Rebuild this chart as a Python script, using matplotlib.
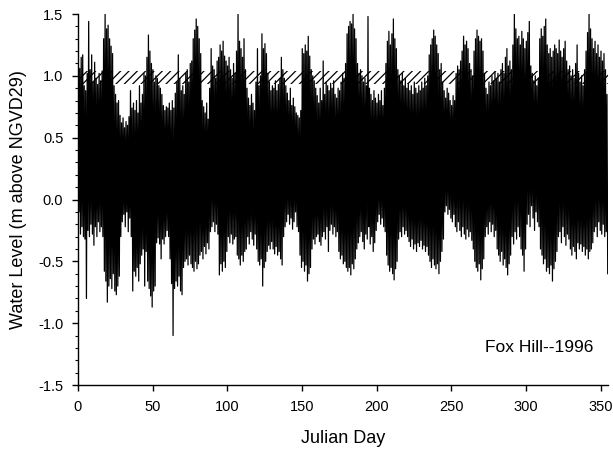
import numpy as np
import matplotlib
matplotlib.use("Agg")
import matplotlib.pyplot as plt

plt.rcParams['font.family'] = ['Liberation Sans', 'DejaVu Sans']
plt.rcParams['hatch.linewidth'] = 0.9

##-----------DATA (one high / one low per day)-----------##
high_water = [
	0.87, 1.06, 1.15, 1.17, 0.92, 0.88, 1.02, 1.44, 1.05, 1.17,
	0.95, 1.11, 0.98, 0.93, 1.02, 0.96, 1.04, 1.30, 1.50, 1.38,
	1.41, 1.30, 1.24, 1.18, 0.92, 0.85, 0.78, 0.80, 0.68, 0.62,
	0.66, 0.58, 0.63, 0.60, 0.67, 0.88, 0.74, 0.78, 0.72, 0.80,
	0.70, 0.92, 0.78, 0.85, 1.02, 1.00, 1.15, 1.33, 1.20, 1.10,
	1.05, 0.95, 1.00, 0.98, 0.92, 0.90, 0.85, 0.76, 0.72, 0.75,
	0.74, 0.78, 0.72, 0.80, 0.74, 0.86, 0.95, 1.17, 0.98, 0.88,
	0.92, 0.85, 1.02, 1.05, 0.95, 1.10, 1.12, 1.30, 1.37, 1.46,
	1.40, 1.30, 1.18, 0.80, 0.75, 0.70, 0.78, 0.65, 0.90, 1.22,
	1.08, 1.05, 0.98, 1.12, 1.15, 1.25, 1.20, 1.28, 1.16, 1.12,
	1.08, 1.15, 1.05, 0.98, 1.10, 1.02, 1.20, 1.50, 1.28, 1.22,
	1.15, 1.30, 1.05, 0.90, 0.82, 0.76, 0.85, 0.78, 0.72, 0.95,
	1.22, 0.92, 1.00, 1.34, 1.22, 1.26, 1.18, 1.02, 0.95, 0.88,
	0.92, 0.90, 0.96, 0.88, 0.93, 0.98, 1.15, 1.05, 0.98, 0.92,
	0.86, 0.80, 0.90, 0.76, 0.82, 0.75, 0.70, 0.68, 0.66, 0.72,
	1.22, 1.18, 1.25, 1.20, 1.32, 1.16, 1.05, 1.00, 0.96, 0.90,
	0.84, 0.78, 0.90, 0.80, 1.12, 0.85, 0.95, 0.92, 0.88, 0.94,
	0.90, 0.96, 0.85, 0.82, 0.90, 0.88, 0.95, 1.02, 0.98, 1.10,
	1.34, 1.40, 1.44, 1.42, 1.50, 1.38, 1.30, 1.10, 1.02, 1.05,
	1.00, 0.95, 0.98, 0.92, 1.48, 0.90, 0.85, 0.80, 0.88, 0.82,
	0.78, 0.85, 0.80, 0.88, 0.76, 0.90, 1.10, 1.28, 1.36, 1.25,
	1.34, 1.46, 1.30, 1.22, 1.05, 1.00, 0.96, 1.02, 0.92, 0.98,
	0.90, 0.94, 0.88, 0.92, 0.85, 0.95, 0.90, 0.86, 0.92, 0.88,
	0.95, 0.90, 0.98, 0.92, 1.00, 1.17, 1.25, 1.30, 1.37, 1.32,
	1.25, 1.18, 1.05, 1.10, 0.95, 0.88, 0.82, 0.90, 0.86, 0.80,
	0.76, 0.84, 0.80, 1.02, 1.08, 1.05, 1.12, 1.20, 1.32, 1.25,
	1.28, 1.22, 1.10, 1.05, 1.00, 1.20, 1.30, 1.37, 1.32, 1.28,
	1.30, 1.20, 1.02, 0.90, 0.85, 0.95, 0.92, 1.00, 0.96, 1.03,
	0.98, 1.02, 0.95, 1.05, 1.10, 1.02, 1.15, 1.22, 1.08, 1.12,
	1.05, 1.25, 1.50, 1.38, 1.30, 1.32, 1.25, 1.36, 1.30, 1.22,
	1.28, 1.35, 1.44, 1.08, 1.02, 0.96, 1.00, 0.92, 0.98, 1.30,
	1.38, 1.32, 1.40, 1.46, 1.25, 1.18, 1.22, 1.15, 1.20, 1.25,
	1.22, 1.18, 1.29, 1.20, 1.15, 1.22, 1.28, 1.12, 1.05, 1.08,
	1.00, 1.05, 0.98, 1.10, 1.25, 1.02, 0.95, 1.00, 0.92, 1.05,
	1.20, 1.35, 1.50, 1.38, 1.30, 1.22, 1.28, 1.18, 1.25, 1.15,
	1.20, 1.12, 1.18, 1.05, 0.85]

low_water = [
	-0.10, -0.28, -0.22, -0.30, -0.32, -0.80, -0.25, -0.30, -0.20, -0.28,
	-0.37, -0.22, -0.30, -0.18, -0.26, -0.22, -0.30, -0.58, -0.66, -0.83,
	-0.70, -0.64, -0.72, -0.60, -0.74, -0.77, -0.70, -0.62, -0.30, -0.18,
	-0.12, -0.22, -0.10, -0.26, -0.15, -0.30, -0.74, -0.58, -0.62, -0.55,
	-0.66, -0.52, -0.45, -0.40, -0.70, -0.42, -0.66, -0.72, -0.78, -0.87,
	-0.74, -0.70, -0.35, -0.31, -0.36, -0.48, -0.32, -0.36, -0.30, -0.25,
	-0.30, -0.48, -0.68, -1.10, -0.72, -0.66, -0.70, -0.62, -0.74, -0.77,
	-0.55, -0.50, -0.48, -0.53, -0.45, -0.52, -0.55, -0.58, -0.50, -0.56,
	-0.52, -0.45, -0.42, -0.48, -0.38, -0.44, -0.35, -0.40, -0.26, -0.22,
	-0.18, -0.26, -0.20, -0.28, -0.61, -0.52, -0.58, -0.50, -0.55, -0.42,
	-0.30, -0.35, -0.28, -0.36, -0.32, -0.30, -0.45, -0.48, -0.53, -0.45,
	-0.50, -0.42, -0.40, -0.30, -0.36, -0.26, -0.32, -0.37, -0.28, -0.40,
	-0.50, -0.53, -0.48, -0.70, -0.55, -0.50, -0.42, -0.37, -0.40, -0.34,
	-0.40, -0.44, -0.38, -0.45, -0.42, -0.48, -0.53, -0.30, -0.22, -0.18,
	-0.12, -0.20, -0.15, -0.24, -0.18, -0.10, -0.22, -0.26, -0.45, -0.55,
	-0.50, -0.58, -0.53, -0.66, -0.60, -0.55, -0.40, -0.32, -0.36, -0.30,
	-0.28, -0.34, -0.37, -0.30, -0.26, -0.32, -0.22, -0.42, -0.25, -0.20,
	-0.28, -0.22, -0.30, -0.26, -0.42, -0.48, -0.45, -0.52, -0.50, -0.55,
	-0.58, -0.55, -0.61, -0.52, -0.56, -0.48, -0.40, -0.35, -0.30, -0.26,
	-0.34, -0.40, -0.28, -0.32, -0.22, -0.36, -0.30, -0.42, -0.35, -0.25,
	-0.18, -0.12, -0.20, -0.15, -0.22, -0.26, -0.45, -0.53, -0.58, -0.55,
	-0.60, -0.65, -0.56, -0.50, -0.32, -0.26, -0.30, -0.22, -0.28, -0.25,
	-0.30, -0.34, -0.38, -0.32, -0.40, -0.36, -0.42, -0.35, -0.38, -0.33,
	-0.40, -0.37, -0.42, -0.38, -0.45, -0.50, -0.55, -0.48, -0.53, -0.56,
	-0.52, -0.60, -0.50, -0.42, -0.32, -0.10, -0.05, -0.12, -0.08, -0.15,
	-0.18, -0.12, -0.22, -0.26, -0.18, -0.25, -0.30, -0.22, -0.28, -0.32,
	-0.24, -0.30, -0.26, -0.33, -0.40, -0.50, -0.55, -0.58, -0.52, -0.65,
	-0.56, -0.48, -0.30, -0.22, -0.28, -0.18, -0.26, -0.20, -0.30, -0.25,
	-0.40, -0.45, -0.50, -0.42, -0.53, -0.48, -0.55, -0.61, -0.52, -0.45,
	-0.30, -0.36, -0.26, -0.32, -0.22, -0.30, -0.40, -0.45, -0.58, -0.40,
	-0.20, -0.12, -0.22, -0.05, -0.15, -0.25, -0.10, -0.18, -0.22, -0.40,
	-0.45, -0.52, -0.48, -0.58, -0.55, -0.60, -0.53, -0.66, -0.56, -0.50,
	-0.42, -0.30, -0.26, -0.35, -0.22, -0.30, -0.37, -0.28, -0.32, -0.40,
	-0.45, -0.38, -0.42, -0.48, -0.35, -0.40, -0.36, -0.42, -0.38, -0.45,
	-0.40, -0.48, -0.42, -0.40, -0.35, -0.26, -0.22, -0.30, -0.18, -0.25,
	-0.28, -0.20, -0.30, -0.26, -0.60]

band_low, band_high = 0.935, 1.04   # hatched reference band (m)
station_label = "Fox Hill--1996"

##-----------BUILD THE TIDE LINE-----------##
days = np.arange(len(high_water))
t = np.column_stack([days + 0.25, days + 0.75]).ravel()
level = np.column_stack([high_water, low_water]).ravel()

##-----------PLOT-----------##
fig = plt.figure(figsize=(6.13, 4.49), dpi=100)
ax = fig.add_axes([0.127, 0.1425, 0.865, 0.8263])

ax.fill_between([0, 355], band_low, band_high, facecolor='none', edgecolor='black',
				hatch='////', linewidth=0, zorder=1)
ax.plot(t, level, color='black', linewidth=0.9, zorder=2)

ax.set_xlim(0, 355)
ax.set_ylim(-1.5, 1.5)
ax.set_xticks(np.arange(0, 351, 50))
ax.set_yticks(np.arange(-1.5, 1.51, 0.5))
ax.set_yticks(np.arange(-1.5, 1.51, 0.1), minor=True)
ax.yaxis.set_major_formatter(matplotlib.ticker.FormatStrFormatter('%.1f'))

for side in ['top', 'right']: ax.spines[side].set_visible(False)
for side in ['left', 'bottom']: ax.spines[side].set_linewidth(1.0)

ax.tick_params(axis='both', which='major', direction='out', length=4.5, width=1.0, labelsize=10.5)
ax.tick_params(axis='y', which='minor', direction='out', length=2.5, width=0.8)
ax.tick_params(axis='y', which='major', pad=6)
ax.tick_params(axis='x', which='major', pad=6)

ax.set_xlabel('Julian Day', fontsize=13, labelpad=12)
ax.set_ylabel('Water Level (m above NGVD29)', fontsize=13, labelpad=8)

ax.text(272.4, -1.2, station_label, fontsize=12.5, ha='left', va='center')

fig.savefig('out.png', dpi=100)
